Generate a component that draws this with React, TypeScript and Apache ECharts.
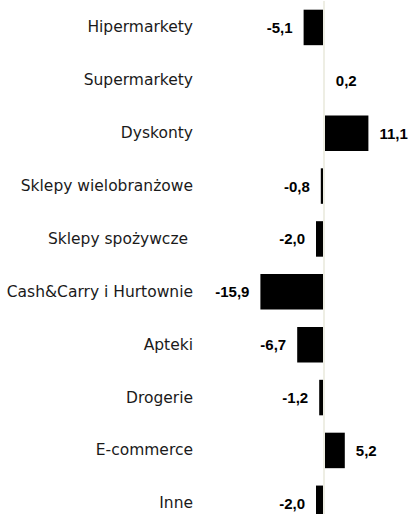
import React, { useEffect, useRef } from "react";
import * as echarts from "echarts";

const categories = [
  "Hipermarkety",
  "Supermarkety",
  "Dyskonty",
  "Sklepy wielobranżowe",
  "Sklepy spożywcze ",
  "Cash&Carry i Hurtownie",
  "Apteki",
  "Drogerie",
  "E-commerce",
  "Inne",
];
const values = [-5.1, 0.2, 11.1, -0.8, -2.0, -15.9, -6.7, -1.2, 5.2, -2.0];

export default function App() {
  const ref = useRef<HTMLDivElement>(null);
  useEffect(() => {
    if (!ref.current) return;
    const chart = echarts.init(ref.current, undefined, { renderer: "svg" });
    chart.setOption({
      animation: false,
      grid: { left: 244, top: 1, width: 160, height: 528.75, containLabel: false },
      xAxis: {
        type: "value",
        min: -20,
        max: 20,
        show: false,
        splitLine: { show: false },
      },
      yAxis: {
        type: "category",
        inverse: true,
        data: categories,
        axisLine: { show: false },
        axisTick: { show: false },
        splitLine: { show: false },
        axisLabel: {
          margin: 51,
          fontFamily: "DejaVu Sans",
          fontSize: 15.5,
          color: "#1a1a1a",
          padding: [3, 0, 0, 0],
        },
      },
      series: [
        {
          type: "bar",
          data: values.map((v) => ({
            value: v,
            label: { position: v < 0 ? "left" : "right" },
          })),
          barWidth: 35.5,
          itemStyle: { color: "#000000" },
          label: {
            show: true,
            distance: 11,
            fontFamily: "Liberation Sans, Arial, sans-serif",
            fontWeight: "bold",
            fontSize: 15,
            color: "#000000",
            padding: [3, 0, 0, 0],
            formatter: (p: any) => Number(p.value).toFixed(1).replace(".", ","),
          },
          markLine: {
            silent: true,
            symbol: "none",
            label: { show: false },
            lineStyle: { color: "#eeeee4", width: 2, type: "solid" },
            data: [{ xAxis: 0 }],
          },
        },
      ],
    });
    return () => chart.dispose();
  }, []);
  return (
    <div
      style={{
        position: "fixed",
        top: 0,
        left: 0,
        width: 411,
        height: 514,
        overflow: "hidden",
        background: "#ffffff",
      }}
    >
      <div ref={ref} style={{ width: 411, height: 540 }} />
    </div>
  );
}
